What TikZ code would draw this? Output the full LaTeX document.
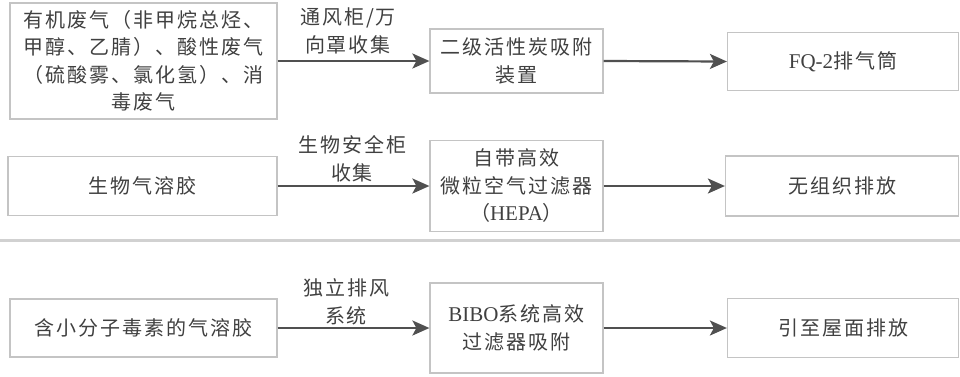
\documentclass[tikz,border=0pt]{standalone}
\usepackage{fontspec}
\setmainfont[LetterSpace=10]{Noto Sans CJK SC}
\newfontfamily\latn{Liberation Serif}
\newcommand{\lt}[1]{{\latn\fontsize{21}{27.5}\selectfont #1}}
\usetikzlibrary{arrows.meta}
\definecolor{txt}{HTML}{404040}
\definecolor{bord}{HTML}{C4C4C4}
\definecolor{arr}{HTML}{505050}
\tikzset{
  box/.style={draw=bord, line width=1.2pt, text=txt, align=center, inner sep=0pt,
    font=\fontsize{20}{27.5}\selectfont},
  lbl/.style={text=txt, align=center, inner sep=0pt, font=\fontsize{20}{27.5}\selectfont},
  flow/.style={draw=arr, line width=2.2pt, -{Stealth[length=17pt,width=15pt,inset=4pt]}},
  sep/.style={draw=black!18, line width=3pt}
}
\begin{document}
\begin{tikzpicture}[x=1pt,y=-1pt]
\useasboundingbox (0,0) rectangle (960,376);
% separator
\coordinate (s1) at (0,240);
\coordinate (s2) at (960,240);
\draw[sep] (s1) -- (s2);
% row 1
\node[box, minimum width=267pt, minimum height=116pt] (a1) at (143.5,61)
  {有机废气（非甲烷总烃、\\甲醇、乙腈）、酸性废气\\（硫酸雾、氯化氢）、消\\毒废气};
\node[box, minimum width=173pt, minimum height=64pt] (a2) at (516.5,61)
  {二级活性炭吸附\\装置};
\node[box, minimum width=231pt, minimum height=58pt] (a3) at (843,61.5)
  {\lt{FQ-2}排气筒};
\node[lbl] (la) at (348,31) {通风柜/万\\向罩收集};
\draw[flow] (a1.east) -- (a2.west);
\draw[flow] (a2.east) -- (a3.west);
% row 2
\node[box, minimum width=269pt, minimum height=59pt] (b1) at (142.5,186)
  {生物气溶胶};
\node[box, minimum width=173pt, minimum height=91pt] (b2) at (516.5,186)
  {自带高效\\微粒空气过滤器\\（\lt{HEPA}）};
\node[box, minimum width=233pt, minimum height=60pt] (b3) at (842,186)
  {无组织排放};
\node[lbl] (lb) at (352,159) {生物安全柜\\收集};
\draw[flow] (b1.east) -- (b2.west);
\draw[flow] (b2.east) -- (b3.west);
% row 3
\node[box, minimum width=267pt, minimum height=58pt] (c1) at (143.5,328)
  {含小分子毒素的气溶胶};
\node[box, minimum width=173pt, minimum height=90pt] (c2) at (516.5,328)
  {\lt{BIBO}系统高效\\过滤器吸附};
\node[box, minimum width=231pt, minimum height=59pt] (c3) at (843,328)
  {引至屋面排放};
\node[lbl] (lc) at (346,302) {独立排风\\系统};
\draw[flow] (c1.east) -- (c2.west);
\draw[flow] (c2.east) -- (c3.west);
\end{tikzpicture}
\end{document}
